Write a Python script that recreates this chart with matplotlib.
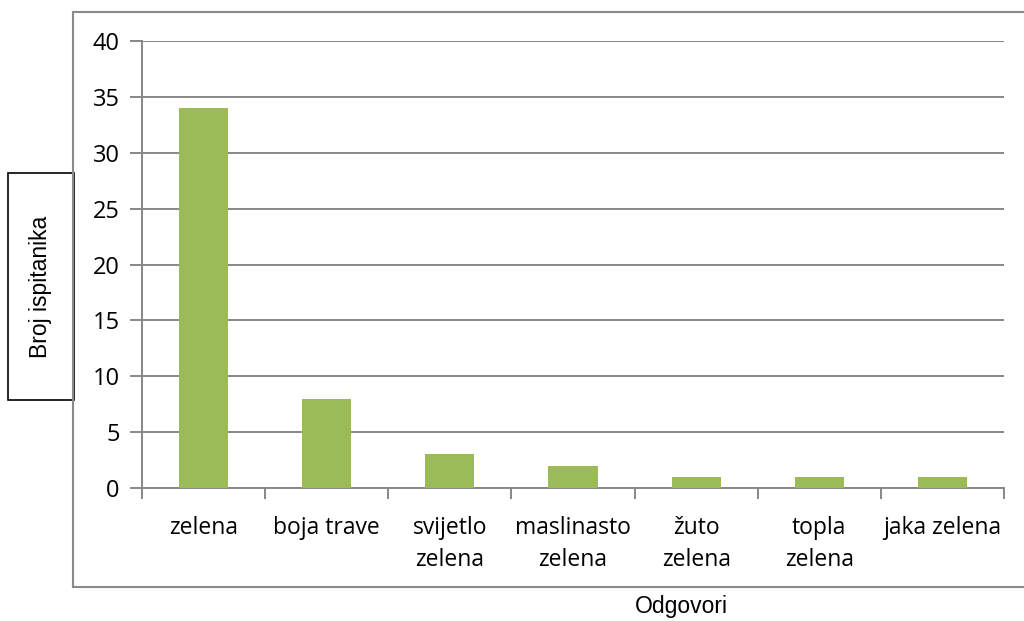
import matplotlib
matplotlib.use("Agg")
import matplotlib.pyplot as plt
from matplotlib.lines import Line2D
from matplotlib.patches import Rectangle
import numpy as np

categories = ["zelena", "boja trave", "svijetlo\nzelena", "maslinasto\nzelena",
              "žuto\nzelena", "topla\nzelena", "jaka zelena"]
values = [34, 8, 3, 2, 1, 1, 1]
yticks = [0, 5, 10, 15, 20, 25, 30, 35, 40]
ylabel = "Broj ispitanika"
xlabel = "Odgovori"

W, H = 1024, 621
fig = plt.figure(figsize=(W / 100, H / 100), dpi=100)
ax = fig.add_axes([142 / W, 1 - 488 / H, (1004 - 142) / W, (488 - 41) / H])

grid_c = "#878787"
bar_c = "#9BBB59"
tick_font = "Open Sans"

x = np.arange(len(categories))
ax.bar(x, values, width=0.4, color=bar_c, zorder=3)
ax.set_xlim(-0.5, len(categories) - 0.5)
ax.set_ylim(0, 40)
ax.set_yticks(yticks)
ax.set_yticklabels([str(v) for v in yticks], fontsize=17, family=tick_font)
ax.yaxis.grid(True, color=grid_c, linewidth=1.4, zorder=0)
ax.tick_params(axis="y", length=9, color=grid_c, width=1.4, pad=7)

# category boundaries as major ticks, labels on minor ticks
ax.set_xticks(np.arange(len(categories) + 1) - 0.5)
ax.set_xticklabels([])
ax.set_xticks(x, minor=True)
ax.set_xticklabels(categories, minor=True, fontsize=16.5, family=tick_font,
                   linespacing=1.45)
ax.tick_params(axis="x", which="major", length=8, color=grid_c, width=1.4)
ax.tick_params(axis="x", which="minor", length=0, pad=20)

for s in ["top", "right"]:
    ax.spines[s].set_visible(False)
for s in ["left", "bottom"]:
    ax.spines[s].set_color(grid_c)
    ax.spines[s].set_linewidth(1.4)

# outer chart border (open on right)
bc = "#8a8a8a"
x0, y0, y1 = 73 / W, 1 - 587 / H, 1 - 12 / H
fig.add_artist(Line2D([x0, x0], [y0, y1], color=bc, lw=1.5, transform=fig.transFigure))
fig.add_artist(Line2D([x0, 1.0], [y1, y1], color=bc, lw=1.5, transform=fig.transFigure))
fig.add_artist(Line2D([x0, 1.0], [y0, y0], color=bc, lw=1.5, transform=fig.transFigure))

# y label in box
fig.add_artist(Rectangle((8 / W, 1 - 400 / H), (74 - 8) / W, (400 - 173) / H,
                         transform=fig.transFigure, fill=True, facecolor="white",
                         edgecolor="black", lw=1.2))
fig.text(41 / W, 1 - 287 / H, ylabel, rotation=90, ha="center", va="center",
         fontsize=16.5, family="Liberation Sans")

fig.text(681 / W, 1 - 607 / H, xlabel, ha="center", va="center",
         fontsize=16.5, family="Liberation Sans")

fig.savefig("out.png", dpi=100, facecolor="white")
